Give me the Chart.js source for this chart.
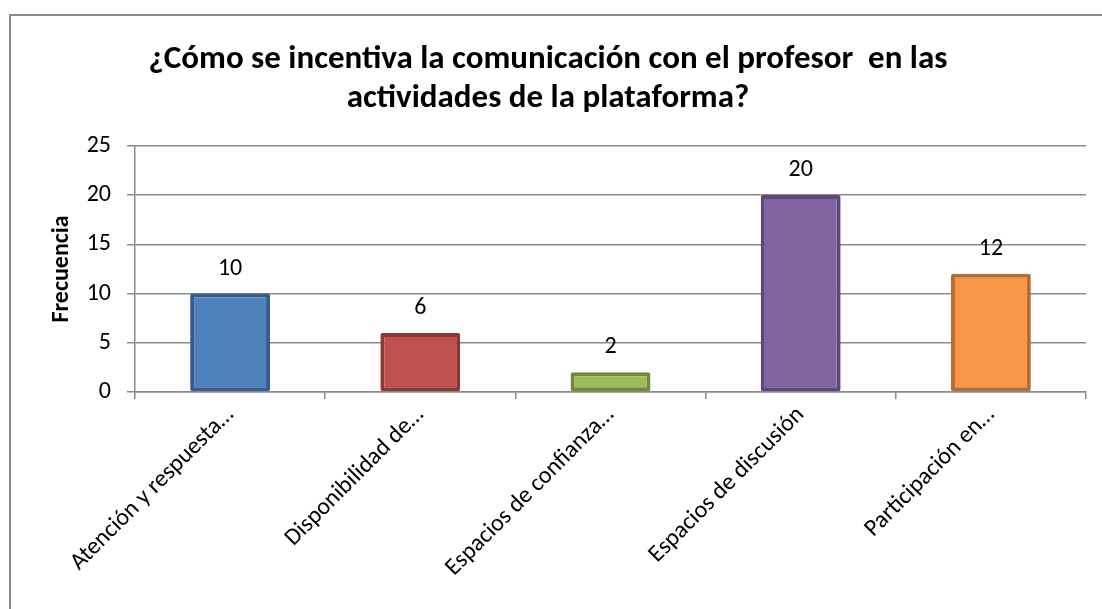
<!DOCTYPE html>
<html>
<head>
<meta charset="utf-8">
<script src="https://cdn.jsdelivr.net/npm/chart.js@4/dist/chart.umd.min.js"></script>
<style>
 html,body{margin:0;padding:0;background:#fff;overflow:hidden}
 #frame{position:absolute;left:9px;top:14px;width:1200px;height:700px;border-top:2px solid #8a8a8a;border-left:2px solid #8a8a8a}
 #wrap{position:absolute;left:0;top:0;width:1102px;height:609px}
</style>
</head>
<body>
<div id="frame"></div>
<div id="wrap"><canvas id="chart"></canvas></div>
<script>
const categories=['Atención y respuesta…','Disponibilidad de…','Espacios de confianza…','Espacios de discusión','Participación en…'];
const values=[10,6,2,20,12];
const fills=['#4F81BD','#C0504D','#9BBB59','#8064A2','#F79646'];
const borders=['#385D8A','#8C3836','#71893F','#5C4776','#B66D31'];
const titleLines=['¿Cómo se incentiva la comunicación con el profesor  en las','actividades de la plataforma?'];
const yTitle='Frecuencia';

const FONT="Carlito, Calibri, Lato, 'Open Sans', sans-serif";
Chart.defaults.font.family=FONT;
Chart.defaults.color='#000';

// value labels above each bar
const barLabels={
 id:'barLabels',
 afterDatasetsDraw(chart){
  const {ctx}=chart, meta=chart.getDatasetMeta(0);
  ctx.save();
  ctx.font='24px '+FONT; ctx.fillStyle='#000'; ctx.textAlign='center'; ctx.textBaseline='middle';
  meta.data.forEach((bar,i)=>ctx.fillText(String(values[i]),bar.x,bar.y-25));
  ctx.restore();
 }
};

new Chart(document.getElementById('chart'),{
 type:'bar',
 data:{labels:categories,datasets:[{data:values,backgroundColor:fills,borderColor:borders,borderWidth:4,borderSkipped:false,borderRadius:2,categoryPercentage:1,barPercentage:0.42}]},
 options:{
  responsive:true,maintainAspectRatio:false,animation:false,
  layout:{padding:{left:10,right:16,top:0,bottom:0}},
  plugins:{
   legend:{display:false},tooltip:{enabled:false},
   title:{display:true,text:titleLines,font:{size:33,weight:'bold',lineHeight:1.18},padding:{top:40,bottom:28},color:'#000'}
  },
  scales:{
   x:{
    afterFit:s=>{s.height=217},
    grid:{offset:true,drawOnChartArea:false,color:'#8a8a8a',lineWidth:1.5,tickLength:7},
    border:{color:'#8a8a8a',width:1.5},
    ticks:{autoSkip:false,minRotation:45,maxRotation:45,font:{size:24},padding:2,color:'#000'}
   },
   y:{
    min:0,max:25,
    afterFit:s=>{s.width=125},
    grid:{color:'#8a8a8a',lineWidth:1.5,tickLength:8},
    border:{color:'#8a8a8a',width:1.5},
    ticks:{stepSize:5,font:{size:24},padding:16,color:'#000'},
    title:{display:true,text:yTitle,font:{size:24,weight:'bold'},color:'#000',padding:{top:38,bottom:0}}
   }
  }
 },
 plugins:[barLabels]
});
</script>
</body>
</html>
